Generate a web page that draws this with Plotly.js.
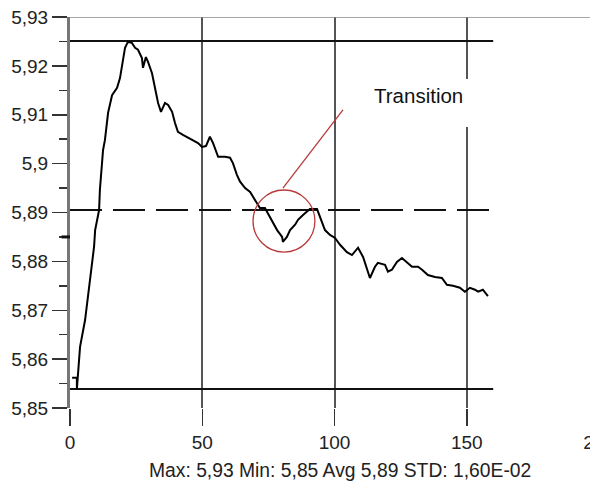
<!DOCTYPE html>
<html>
<head>
<meta charset="utf-8">
<script src="https://cdn.plot.ly/plotly-3.0.1.min.js"></script>
<style>
html, body { margin: 0; padding: 0; background: #ffffff; overflow: hidden; width: 590px; height: 484px; }
#chart { width: 640px; height: 484px; }
</style>
</head>
<body>
<div id="chart"></div>
<script>
// Measured series (x = sample, y = value)
const xValues = [0.8, 2.6, 2.6, 3.8, 5.7, 7.2, 9.1, 9.5, 11.0, 11.3, 12.5, 13.2, 14.4, 15.9, 17.8, 18.9, 20.0, 20.8, 21.9, 23.4, 24.6, 25.7, 27.2, 27.6, 28.7, 29.5, 31.0, 32.1, 33.3, 34.4, 35.9, 37.1, 38.6, 39.7, 40.8, 42.7, 44.6, 46.5, 48.4, 49.9, 51.4, 52.9, 54.1, 56.0, 58.6, 60.5, 61.6, 63.1, 64.3, 66.2, 68.1, 69.2, 71.1, 71.8, 73.7, 75.6, 78.3, 80.2, 80.5, 82.0, 83.2, 85.1, 86.2, 88.1, 90.0, 90.7, 93.4, 94.5, 96.4, 98.3, 100.2, 102.1, 104.7, 106.6, 108.9, 110.8, 112.3, 113.4, 115.3, 116.4, 119.1, 120.2, 121.7, 123.6, 125.5, 127.4, 129.3, 131.6, 133.1, 135.3, 138.0, 140.6, 142.5, 144.8, 147.4, 149.3, 151.2, 153.1, 154.3, 156.1, 158.0];
const yValues = [5.8562, 5.8562, 5.8539, 5.8625, 5.8680, 5.8742, 5.8830, 5.8864, 5.8905, 5.8946, 5.9028, 5.9048, 5.9104, 5.9140, 5.9155, 5.9175, 5.9208, 5.9237, 5.9249, 5.9247, 5.9237, 5.9233, 5.9216, 5.9196, 5.9218, 5.9208, 5.9185, 5.9155, 5.9124, 5.9106, 5.9124, 5.9120, 5.9106, 5.9083, 5.9065, 5.9059, 5.9053, 5.9048, 5.9042, 5.9034, 5.9036, 5.9055, 5.9042, 5.9014, 5.9014, 5.9012, 5.9001, 5.8977, 5.8963, 5.8950, 5.8942, 5.8932, 5.8916, 5.8909, 5.8909, 5.8891, 5.8864, 5.8850, 5.8840, 5.8850, 5.8864, 5.8875, 5.8885, 5.8895, 5.8905, 5.8907, 5.8907, 5.8891, 5.8864, 5.8854, 5.8848, 5.8834, 5.8819, 5.8813, 5.8828, 5.8809, 5.8783, 5.8766, 5.8789, 5.8797, 5.8793, 5.8779, 5.8783, 5.8799, 5.8807, 5.8797, 5.8789, 5.8789, 5.8783, 5.8772, 5.8768, 5.8766, 5.8752, 5.8750, 5.8746, 5.8738, 5.8746, 5.8742, 5.8738, 5.8742, 5.8729];

// Reference levels
const maxLevel = 5.9251;
const minLevel = 5.8539;
const avgLevel = 5.8905;
const levelSpan = [0, 160];

// Ticks
const xTickVals = [0, 50, 100, 150, 200];
const xTickText = ['0', '50', '100', '150', '200'];
const yTickVals = [5.85, 5.86, 5.87, 5.88, 5.89, 5.9, 5.91, 5.92, 5.93];
const yTickText = ['5,85', '5,86', '5,87', '5,88', '5,89', '5,9', '5,91', '5,92', '5,93'];

// Highlight
const circleX = [69.2, 92.6];
const circleY = [5.8819, 5.8946];
const pointerX = [80.5, 103.2];
const pointerY = [5.8950, 5.9110];
const noteLabel = 'Transition';
const noteX = 131.9, noteY = 5.9140;
const noteBoxCenter = [144.0, 5.9124];
const statsText = 'Max: 5,93 Min: 5,85 Avg 5,89 STD: 1,60E-02';

const FONT = '"Liberation Sans", Arial, sans-serif';
const RED = '#b83a3a';

const traces = [
  { x: levelSpan, y: [maxLevel, maxLevel], mode: 'lines', line: { color: '#111', width: 2 }, hoverinfo: 'skip', showlegend: false },
  { x: levelSpan, y: [minLevel, minLevel], mode: 'lines', line: { color: '#111', width: 2 }, hoverinfo: 'skip', showlegend: false },
  { x: levelSpan, y: [avgLevel, avgLevel], mode: 'lines', line: { color: '#111', width: 2, dash: '32px,11px' }, hoverinfo: 'skip', showlegend: false },
  { x: xValues, y: yValues, mode: 'lines', line: { color: '#000', width: 2 }, showlegend: false }
];

const layout = {
  width: 640, height: 484,
  margin: { l: 70, r: 41, t: 17, b: 76 },
  paper_bgcolor: '#ffffff', plot_bgcolor: '#ffffff',
  font: { family: FONT, size: 19, color: '#222' },
  showlegend: false,
  xaxis: {
    range: [0, 200], tickmode: 'array', tickvals: xTickVals, ticktext: xTickText,
    showgrid: true, gridcolor: '#555', gridwidth: 2, zeroline: false,
    showline: false, ticks: 'outside', ticklen: 17, tickwidth: 1.5, tickcolor: '#333',
    tickfont: { family: FONT, size: 19, color: '#222' }, fixedrange: true
  },
  yaxis: {
    range: [5.85, 5.93], tickmode: 'array', tickvals: yTickVals, ticktext: yTickText,
    showgrid: false, zeroline: false, showline: true, linecolor: '#777', linewidth: 3,
    ticks: 'outside', ticklen: 15, tickwidth: 1.5, tickcolor: '#333',
    minor: { dtick: 0.005, tick0: 5.85, ticks: 'outside', ticklen: 8, tickwidth: 1.5, tickcolor: '#333', showgrid: false },
    tickfont: { family: FONT, size: 19, color: '#222' }, fixedrange: true
  },
  shapes: [
    { type: 'line', xref: 'paper', yref: 'y', x0: 0, x1: 1, y0: 5.93, y1: 5.93, line: { color: '#888', width: 1.5 } },
    { type: 'line', xref: 'paper', yref: 'y', x0: -0.016, x1: 0, y0: 5.885, y1: 5.885, line: { color: '#111', width: 3 } },
    { type: 'circle', xref: 'x', yref: 'y', x0: circleX[0], x1: circleX[1], y0: circleY[0], y1: circleY[1], line: { color: RED, width: 1.3 }, layer: 'above' },
    { type: 'line', xref: 'x', yref: 'y', x0: pointerX[0], x1: pointerX[1], y0: pointerY[0], y1: pointerY[1], line: { color: RED, width: 1.3 }, layer: 'above' }
  ],
  annotations: [
    { text: ' ', x: noteBoxCenter[0], y: noteBoxCenter[1], xref: 'x', yref: 'y', showarrow: false, xanchor: 'center', yanchor: 'middle', width: 190, height: 48, bgcolor: '#ffffff', borderpad: 0, borderwidth: 0 },
    { text: noteLabel, x: noteX, y: noteY, xref: 'x', yref: 'y', showarrow: false, xanchor: 'center', yanchor: 'middle', font: { family: FONT, size: 20.5, color: '#111' } },
    { text: statsText, x: 0.5104, y: -0.161, xref: 'paper', yref: 'paper', showarrow: false, xanchor: 'center', yanchor: 'middle', font: { family: FONT, size: 19.3, color: '#222' } }
  ]
};

Plotly.newPlot('chart', traces, layout, { displayModeBar: false, staticPlot: true });
</script>
</body>
</html>
